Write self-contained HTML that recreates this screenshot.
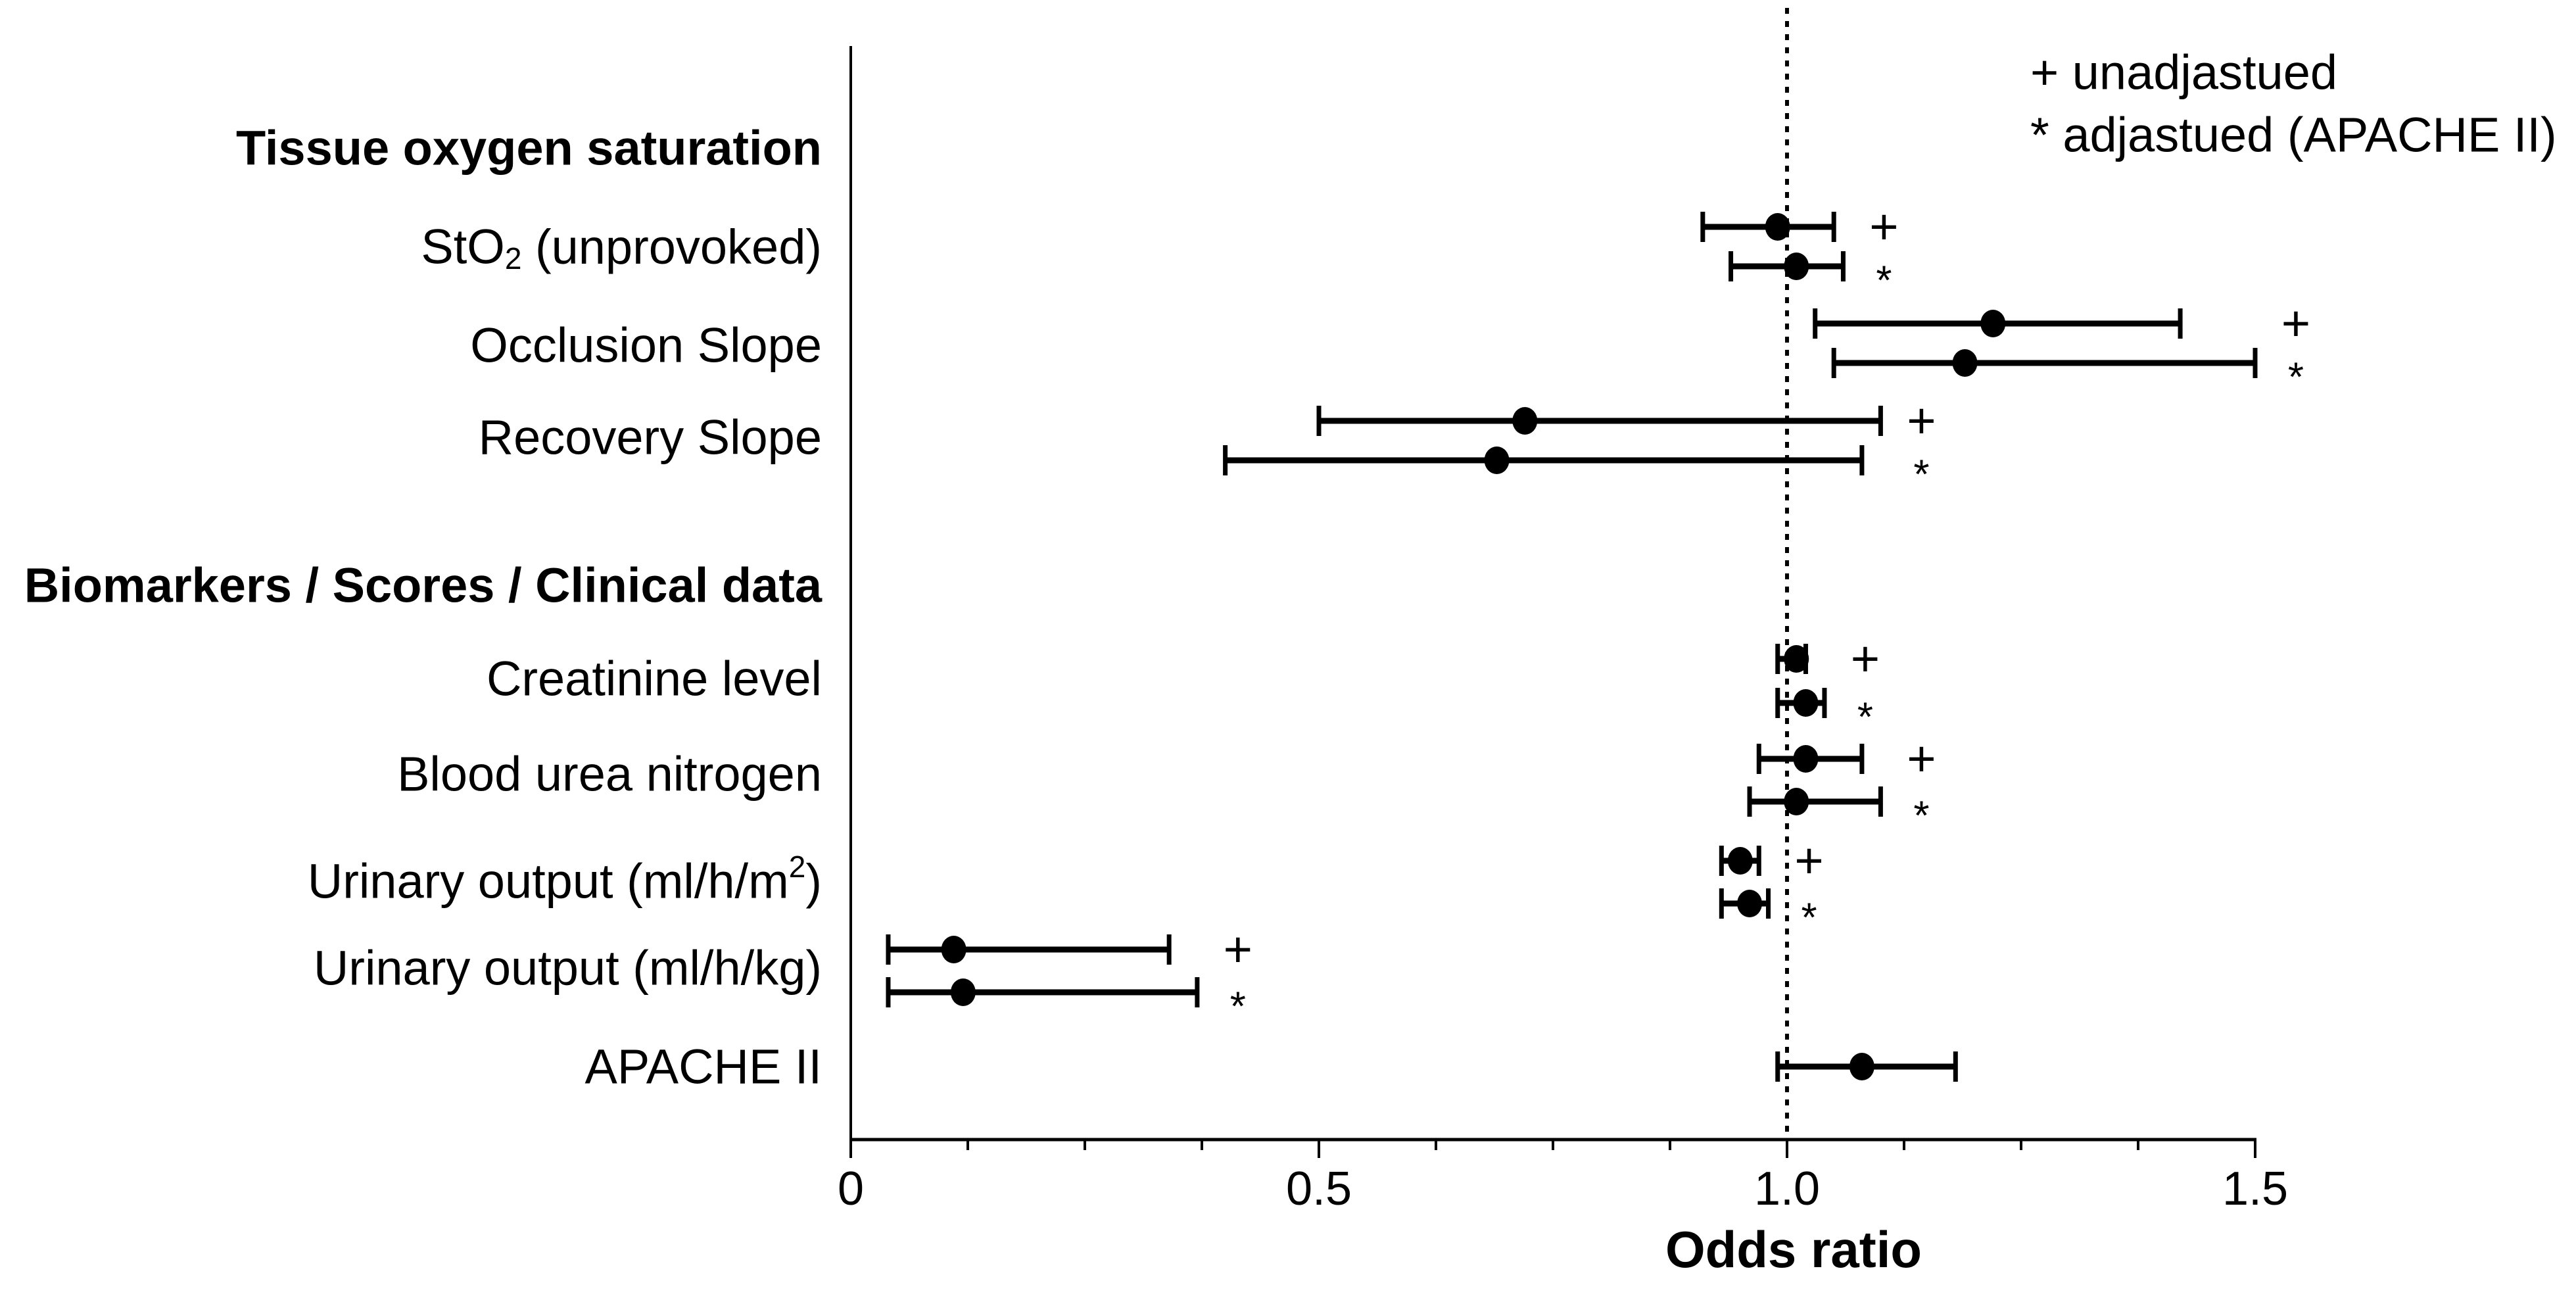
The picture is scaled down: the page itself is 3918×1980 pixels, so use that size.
<!DOCTYPE html>
<html><head><meta charset="utf-8"><style>
html,body{margin:0;padding:0;background:#fff}
svg{display:block;font-family:"Liberation Sans",Arial,sans-serif}
</style></head><body>
<svg id="chart" width="3918" height="1980" viewBox="0 0 3918 1980" xmlns="http://www.w3.org/2000/svg">
<g id="axes"></g>
<g id="marks"></g>
<g id="labels"></g>
<g font-size="74">
<text x="3088" y="110" dominant-baseline="central">+ unadjastued</text>
<text x="3088" y="205" dominant-baseline="central">* adjastued (APACHE II)</text>
</g>
<text x="2728" y="1927" font-size="78" font-weight="bold" text-anchor="middle">Odds ratio</text>
</svg>
<script>
const rowLabels = ["StO2 (unprovoked)","StO2 (unprovoked)","Occlusion Slope","Occlusion Slope","Recovery Slope","Recovery Slope","Creatinine level","Creatinine level","Blood urea nitrogen","Blood urea nitrogen","Urinary output (ml/h/m2)","Urinary output (ml/h/m2)","Urinary output (ml/h/kg)","Urinary output (ml/h/kg)","APACHE II"];
const rowType = ["+","*","+","*","+","*","+","*","+","*","+","*","+","*",""];
const orValues = [0.99,1.01,1.22,1.19,0.72,0.69,1.01,1.02,1.02,1.01,0.95,0.96,0.11,0.12,1.08];
const ciLow = [0.91,0.94,1.03,1.05,0.50,0.40,0.99,0.99,0.97,0.96,0.93,0.93,0.04,0.04,0.99];
const ciHigh = [1.05,1.06,1.42,1.50,1.10,1.08,1.02,1.04,1.08,1.10,0.97,0.98,0.34,0.37,1.18];
const tickValues = [0,0.5,1.0,1.5];
const tickLabels = ["0","0.5","1.0","1.5"];
const refValue = 1.0;

const NS="http://www.w3.org/2000/svg";
const X0=1294, XS=1424, AXY=1733, AXTOP=70;
function xs(v){return X0+v*XS;}
const rowY=[345,405,492,552,640,700,1002,1069,1154,1219,1309,1374,1444,1509,1622];
function ys(i){return rowY[i];}
function mk(tag,attrs,parent){const e=document.createElementNS(NS,tag);for(const k in attrs)e.setAttribute(k,attrs[k]);parent.appendChild(e);return e;}
const axes=document.getElementById('axes'),marks=document.getElementById('marks'),labels=document.getElementById('labels');

let el=mk('line',{x1:X0,y1:AXTOP,x2:X0,y2:AXY,stroke:'#000','stroke-width':4},axes);


el=mk('line',{x1:X0-2,y1:AXY,x2:xs(1.5)+2,y2:AXY,stroke:'#000','stroke-width':5},axes);


for(let k=0;k<=12;k++){
  const v=k*0.125, major=(k%4===0);
  el=mk('line',{x1:xs(v),y1:AXY,x2:xs(v),y2:AXY+(major?28:16),stroke:'#000','stroke-width':4},axes);
  
  
}
tickValues.forEach((v,i)=>{
  el=mk('text',{x:xs(v),y:1832,'font-size':72,'text-anchor':'middle'},axes);
  el.textContent=tickLabels[i];
  
  
});
el=mk('line',{x1:xs(refValue),y1:12,x2:xs(refValue),y2:AXY,stroke:'#000','stroke-width':6,'stroke-dasharray':'9 11'},axes);



orValues.forEach((v,i)=>{
  const y=ys(i);
  const g=mk('g',{},marks);
  
  
  el=mk('line',{x1:xs(ciLow[i]),y1:y,x2:xs(ciHigh[i]),y2:y,stroke:'#000','stroke-width':9},g);
  
  
  [ciLow[i],ciHigh[i]].forEach(c=>{
    el=mk('line',{x1:xs(c),y1:y-23,x2:xs(c),y2:y+23,stroke:'#000','stroke-width':7},g);
    
    
  });
  el=mk('ellipse',{cx:xs(v),cy:y,rx:19,ry:21,fill:'#000'},g);
  
  
  if(rowType[i]){
    const j=(i%2===0)?i+1:i-1;
    const hi=Math.max(ciHigh[i],ciHigh[j]);
    el=mk('text',{x:xs(hi)+62,y:y+(rowType[i]==='*'?22:0),'font-size':rowType[i]==='*'?62:76,'text-anchor':'middle','dominant-baseline':'central'},g);
    el.textContent=rowType[i];
    
    
  }
});

const lab=[["Tissue oxygen saturation",225,true],["StO|2| (unprovoked)",375,false],["Occlusion Slope",525,false],["Recovery Slope",665,false],["Biomarkers / Scores / Clinical data",890,true],["Creatinine level",1032,false],["Blood urea nitrogen",1177,false],["Urinary output (ml/h/m^2^)",1340,false],["Urinary output (ml/h/kg)",1472,false],["APACHE II",1622,false]];
lab.forEach(([t,y,b])=>{
  const e=mk('text',{x:1250,y:y,'font-size':74,'text-anchor':'end','dominant-baseline':'central','font-weight':b?'bold':'normal'},labels);
  
  
  if(t.includes('|')){const p=t.split('|');e.appendChild(document.createTextNode(p[0]));const s=mk('tspan',{'font-size':46,dy:18},e);s.textContent=p[1];const r=mk('tspan',{dy:-18},e);r.textContent=p[2];}
  else if(t.includes('^')){const p=t.split('^');e.appendChild(document.createTextNode(p[0]));const s=mk('tspan',{'font-size':46,dy:-22},e);s.textContent=p[1];const r=mk('tspan',{dy:22},e);r.textContent=p[2];}
  else e.textContent=t;
});
</script>
</body></html>
